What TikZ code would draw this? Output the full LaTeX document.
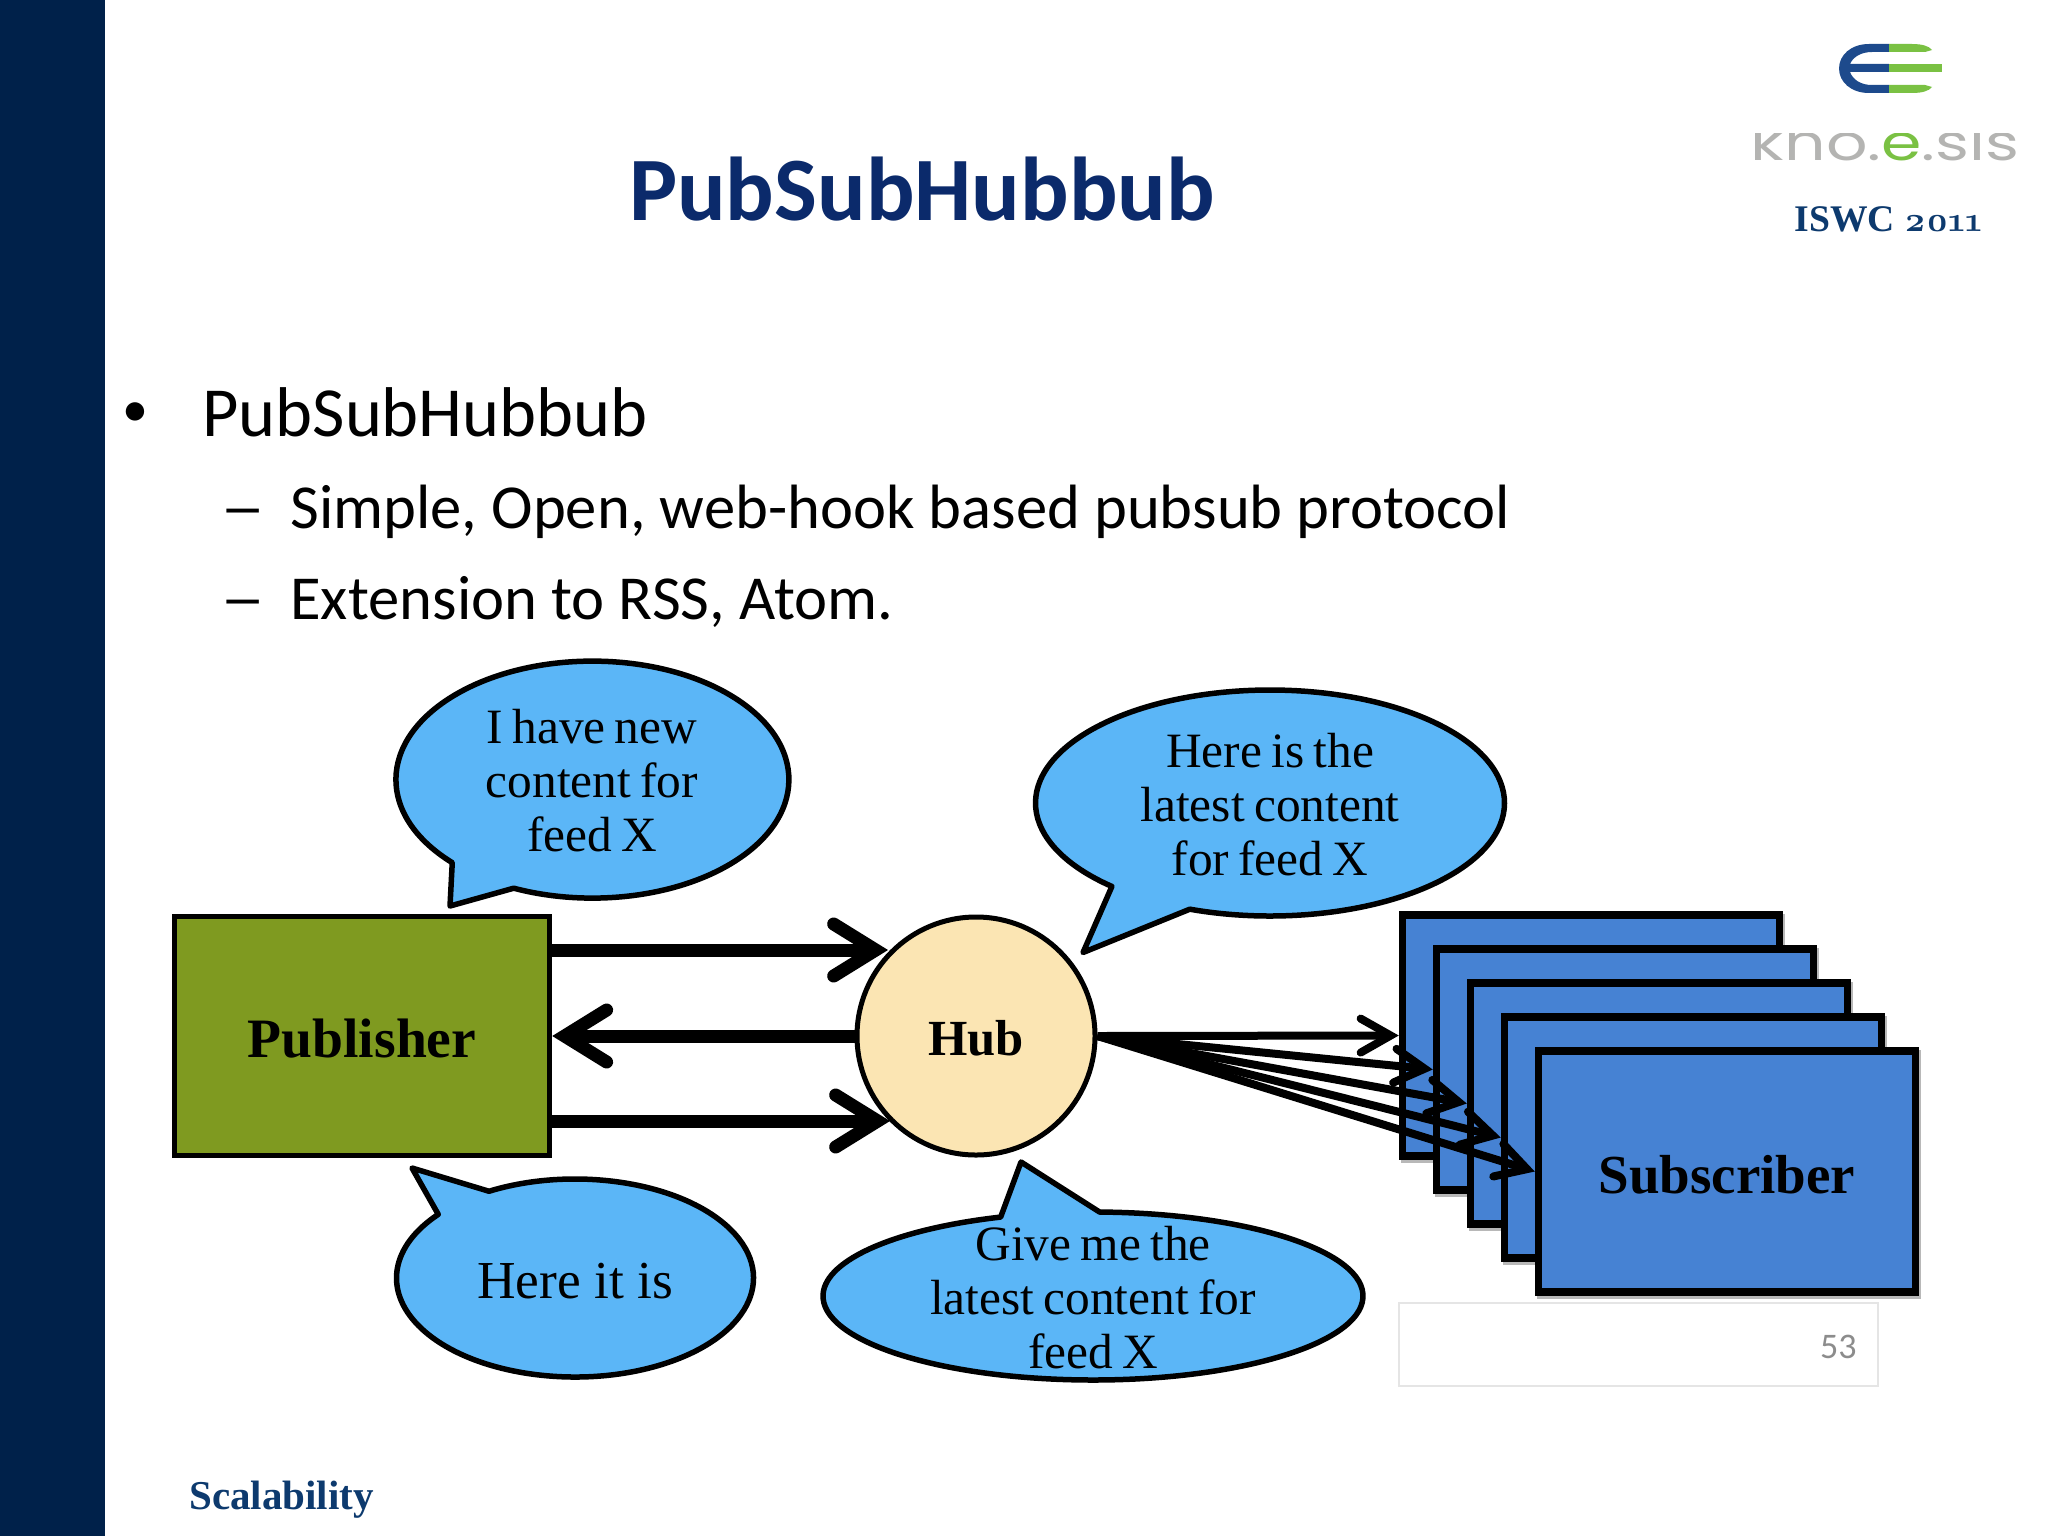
\documentclass[tikz,border=0pt]{standalone}
\usepackage{fontspec}
\usepackage{graphicx}
\usetikzlibrary{arrows.meta,positioning}
\setmainfont{Liberation Serif}
\newfontfamily\bodyfont{Carlito}
\newfontfamily\logofont{Poppins}
\newfontfamily\oldfont[Numbers=OldStyle]{Latin Modern Roman}
\newfontfamily\bubblefont[WordSpace=0.75]{Liberation Serif}
\definecolor{sidebar}{HTML}{00214A}
\definecolor{titleblue}{HTML}{0B2A6B}
\definecolor{isblue}{HTML}{0D3A6E}
\definecolor{bubblefill}{HTML}{5BB6F7}
\definecolor{pubfill}{HTML}{7F9A20}
\definecolor{hubfill}{HTML}{FBE5B3}
\definecolor{subfill}{HTML}{4682D3}
\definecolor{logoblue}{HTML}{1D4A8C}
\definecolor{logogreen}{HTML}{7AC143}
\definecolor{logogray}{HTML}{B4B4B2}
\newcommand{\fs}[1]{\fontsize{#1}{#1}\selectfont}
\newcommand{\lowered}[2]{\raisebox{-#1}[\height][\depth]{#2}}
\tikzset{
  bubble/.style={draw=black,fill=bubblefill,line width=2.75pt,line join=round},
  bubbletext/.style={align=center,inner sep=0pt,font=\bubblefont\fontsize{24.7}{27}\selectfont},
  pubbox/.style={rectangle,draw=black,fill=pubfill,line width=2.75pt,minimum width=187.5pt,minimum height=119.5pt,inner sep=0pt,font=\bfseries\fs{27.8}},
  hubnode/.style={circle,draw=black,fill=hubfill,line width=2.5pt,minimum size=119pt,inner sep=0pt,font=\bfseries\fs{25.3}},
  subbox/.style={rectangle,draw=black,fill=subfill,line width=3.75pt,minimum width=188.5pt,minimum height=120.5pt,inner sep=0pt,font=\bfseries\fs{27.5},
    preaction={draw=black!28,line width=3.75pt,transform canvas={xshift=1pt,yshift=-1.5pt}}},
  fatarrow/.style={line width=6.5pt,-{Straight Barb[length=21pt,width=26pt,line cap=round]}},
  thinarrow/.style={line width=4pt,-{Straight Barb[length=15pt,width=17pt,line cap=round]}},
  slidetext/.style={anchor=base west,inner sep=0pt,font=\bodyfont\fs{35.2}},
  subtext/.style={anchor=base west,inner sep=0pt,font=\bodyfont\fs{31.3}}
}
\newcommand{\callout}[8]{% cx cy rx ry tstart tend tipx tipy
  \draw[bubble] (#1,#2) ++(#5:#3 and #4)
    arc[start angle=#5,end angle=#6,x radius=#3,y radius=#4] -- (#7,#8) -- cycle;}
\begin{document}
\begin{tikzpicture}[x=.5pt,y=.5pt,yscale=-1]
\useasboundingbox (0,0) rectangle (2048,1536);
\fill[white] (0,0) rectangle (2048,1536);
\fill[sidebar] (0,0) rectangle (105,1536);

% logo
\fill[logoblue] (1889,44) -- (1869,44) .. controls (1851,44) and (1839,55) .. (1839,68.5)
  .. controls (1839,82) and (1851,93) .. (1869,93) -- (1889,93) -- (1889,85) -- (1872,85)
  .. controls (1861,85) and (1853,80) .. (1850,72) -- (1889,72) -- (1889,64) -- (1850,64)
  .. controls (1853,57) and (1861,52) .. (1872,52) -- (1889,52) -- cycle;
\fill[logogreen] (1889,44) -- (1912,44) .. controls (1922,44) and (1929,46) .. (1932,50) -- (1925,52) -- (1889,52) -- cycle;
\fill[logogreen] (1889,64) rectangle (1942,72);
\fill[logogreen] (1889,93) -- (1912,93) .. controls (1922,93) and (1929,91) .. (1932,87) -- (1925,85) -- (1889,85) -- cycle;
\begin{scope}
\clip (1740,133) rectangle (2030,165);
\node[anchor=base,inner sep=0pt,text=logogray] (logotext) at (1885,160)
  {\logofont\fs{25}\scalebox{1.3}[1]{kno.\textcolor{logogreen}{e}.sis}};
\end{scope}
\node[anchor=base,inner sep=0pt,text=isblue] (conf) at (1888.5,231)
  {\bfseries\fs{18.8}ISWC {\oldfont\bfseries\fs{17.5}2011}};

% title and bullets
\node[anchor=base,inner sep=0pt,text=titleblue] (title) at (922,220.5) {\bodyfont\bfseries\fs{45.3}PubSubHubbub};
\node[anchor=base west,inner sep=0pt,font=\bodyfont\fs{26}] (b1) at (122,426) {•};
\node[slidetext] (l1) at (202,436) {PubSubHubbub};
\node[subtext] (d2) at (220,528) {\scalebox{1.45}[1]{–}};
\node[subtext] (l2) at (290,528) {Simple, Open, web-hook based pubsub protocol};
\node[subtext] (d3) at (220,619) {\scalebox{1.45}[1]{–}};
\node[subtext] (l3) at (290,619) {Extension to RSS, Atom.};

% speech bubbles
\callout{592.4}{779.6}{196.5}{118.5}{135.5}{473.6}{450}{906}
\node[bubbletext] (say1) at (592,781) {I have new\\content for\\feed X};
\callout{575}{1278}{178.5}{99}{241.2}{580}{412}{1168}
\node[bubbletext,font=\rmfamily\fs{26.7}] (say2) at (575,1281) {Here it is};
\callout{1270}{803}{234.5}{113}{132.4}{470}{1083}{952.5}
\node[bubbletext] (say3) at (1270,805) {Here is the\\latest content\\for feed X};
\callout{1093}{1296}{270}{84}{271.4}{610}{1021}{1162}
\node[bubbletext] (say4) at (1093,1298) {Give me the\\latest content for\\feed X};

% page number box
\node[rectangle,draw=black!10,fill=white,line width=1pt,minimum width=239.5pt,minimum height=41.5pt,inner sep=0pt] (pagebox) at (1638.5,1344) {};
\node[anchor=base east,inner sep=0pt,text=black!45] (pagenum) at (1857,1358) {\bodyfont\fs{18}53};

% main nodes
\node[pubbox] (pub) at (362,1036) {\lowered{1.2pt}{Publisher}};
\node[hubnode] (hub) at (976,1036) {\lowered{1pt}{Hub}};
\node[subbox] (sub1) at (1591,1035.5) {};
\node[subbox] (sub2) at (1625,1069.5) {};
\node[subbox] (sub3) at (1659,1103.5) {};
\node[subbox] (sub4) at (1693,1137.5) {};
\node[subbox] (sub5) at (1727,1171.5) {\lowered{1.5pt}{Subscriber}};

% connectors
\coordinate (hubtop) at (888,950);
\coordinate (hubbot) at (890,1121);
\draw[fatarrow] (pub.east |- hubtop) -- (hubtop);
\draw[fatarrow] (hub.west) -- (pub.east);
\draw[fatarrow] (pub.east |- hubbot) -- (hubbot);
\draw[thinarrow] (hub.east) -- (sub1.west);
\draw[thinarrow] (hub.east) -- (sub2.west);
\draw[thinarrow] (hub.east) -- (sub3.west);
\draw[thinarrow] (hub.east) -- (sub4.west);
\draw[thinarrow] (hub.east) -- (sub5.west);

\node[anchor=base west,inner sep=0pt,text=isblue] (foot) at (189,1509) {\bfseries\fs{20.5}Scalability};
\end{tikzpicture}
\end{document}
